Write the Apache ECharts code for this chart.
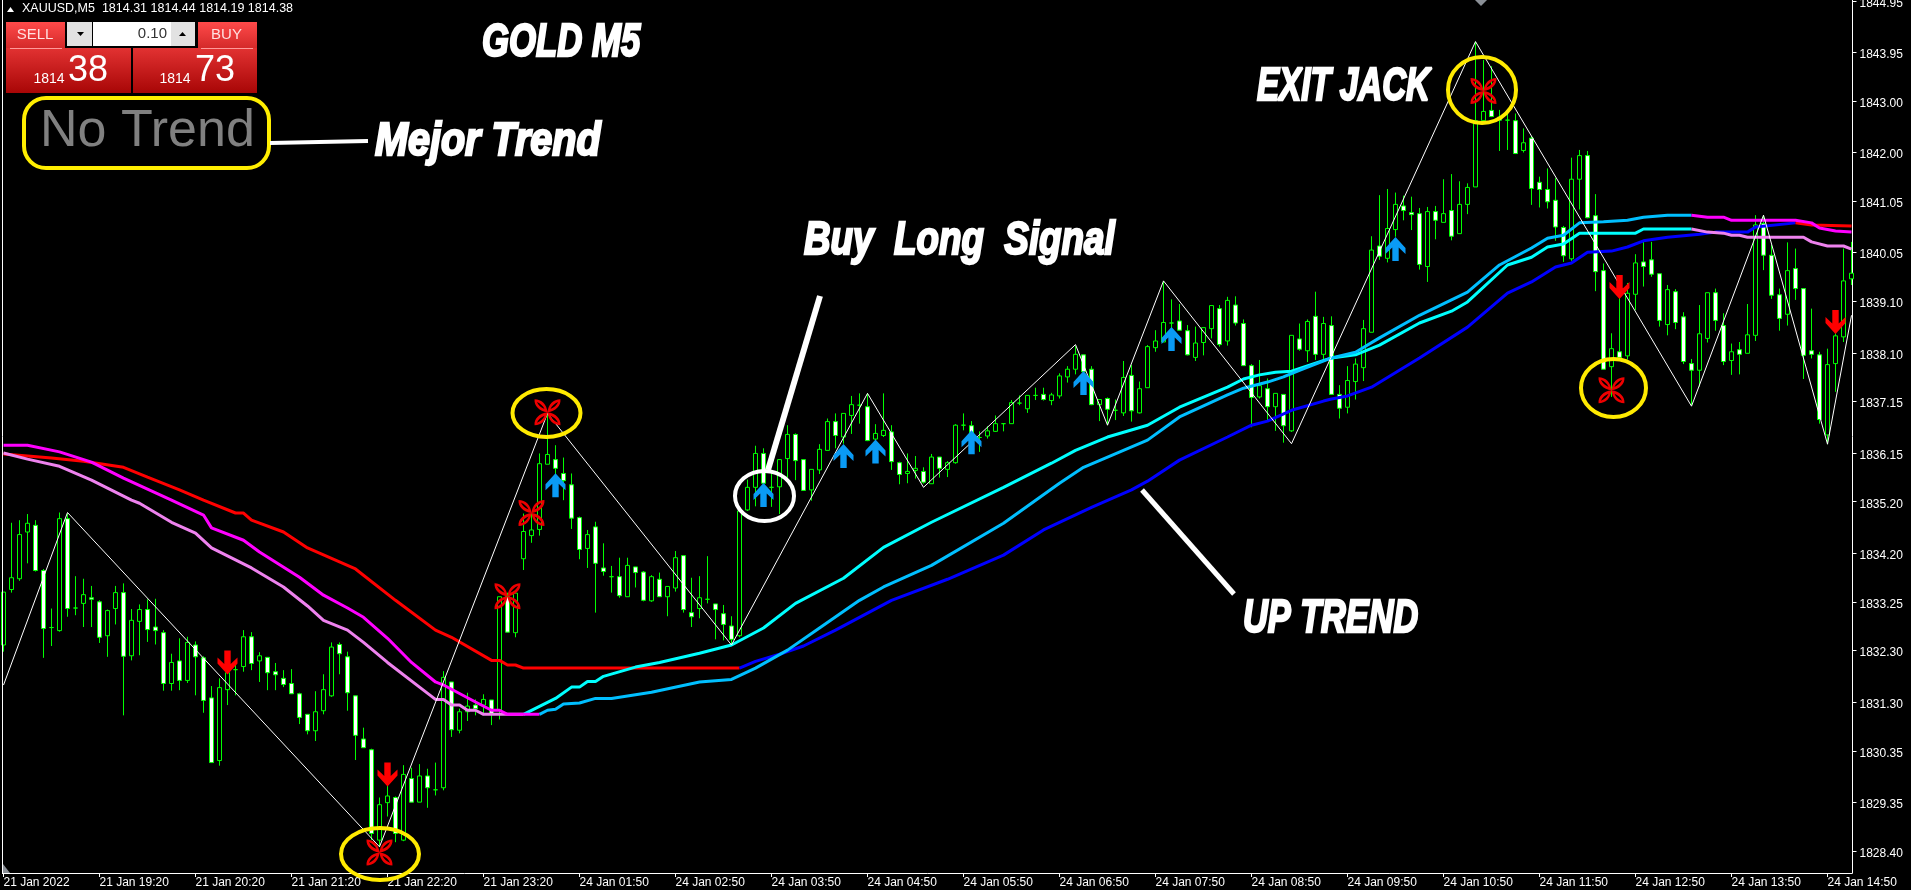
<!DOCTYPE html>
<html><head><meta charset="utf-8">
<style>html,body{margin:0;padding:0;background:#000}#c{width:1911px;height:890px}</style>
<script src="https://cdn.jsdelivr.net/npm/echarts@6/dist/echarts.min.js"></script>
</head><body><div id="c"></div>
<script>
const tickLabels=["21 Jan 2022","21 Jan 19:20","21 Jan 20:20","21 Jan 21:20","21 Jan 22:20","21 Jan 23:20","24 Jan 01:50","24 Jan 02:50","24 Jan 03:50","24 Jan 04:50","24 Jan 05:50","24 Jan 06:50","24 Jan 07:50","24 Jan 08:50","24 Jan 09:50","24 Jan 10:50","24 Jan 11:50","24 Jan 12:50","24 Jan 13:50","24 Jan 14:50"];
const priceTicks=[1828.40,1829.35,1830.35,1831.30,1832.30,1833.25,1834.20,1835.20,1836.15,1837.15,1838.10,1839.10,1840.05,1841.05,1842.00,1843.00,1843.95,1844.95];
const opens=[1832.41,1833.49,1833.70,1834.61,1834.74,1833.86,1832.75,1832.69,1834.87,1833.13,
1833.22,1833.33,1833.25,1832.59,1833.12,1833.43,1832.20,1832.87,1833.10,1832.76,
1832.65,1831.66,1832.10,1831.72,1832.41,1832.16,1831.38,1830.16,1831.54,1831.93,
1831.99,1832.57,1832.10,1832.17,1831.89,1831.76,1831.66,1831.46,1831.06,1830.74,
1831.13,1831.42,1832.42,1832.18,1831.42,1830.58,1830.37,1828.61,1829.34,1829.44,
1828.61,1829.81,1829.35,1829.86,1829.59,1829.63,1831.69,1830.75,1831.11,1831.24,
1831.24,1831.34,1831.14,1833.35,1832.65,1834.09,1834.54,1834.66,1835.93,1836.02,
1835.75,1835.53,1834.89,1834.29,1834.71,1833.91,1833.74,1833.74,1833.35,1833.93,
1833.83,1833.27,1833.69,1833.35,1833.52,1834.15,1833.04,1833.12,1833.30,1833.21,
1833.02,1832.78,1832.59,1835.04,1835.48,1836.14,1835.48,1835.49,1836.04,1836.51,
1836.02,1835.43,1835.82,1836.20,1836.76,1836.46,1836.88,1837.08,1837.05,1836.42,
1836.49,1836.56,1835.96,1835.75,1835.81,1835.79,1835.55,1836.07,1835.83,1835.96,
1836.69,1836.68,1836.45,1836.48,1836.57,1836.72,1836.72,1837.12,1837.01,1837.27,
1837.29,1837.17,1837.26,1837.63,1837.78,1838.06,1837.78,1837.09,1837.21,1836.98,
1836.93,1837.66,1836.93,1837.42,1838.20,1838.31,1838.68,1838.72,1838.53,1838.01,
1838.30,1838.57,1838.96,1838.33,1839.03,1838.67,1837.85,1837.24,1837.40,1837.05,
1837.29,1836.58,1838.37,1838.14,1838.81,1838.07,1838.63,1837.29,1837.04,1837.54,
1837.81,1838.50,1840.18,1839.94,1840.50,1840.96,1840.83,1840.81,1839.78,1840.85,
1840.64,1840.87,1840.42,1840.99,1841.33,1842.62,1842.82,1842.69,1842.63,1842.62,
1842.04,1842.28,1841.42,1841.28,1841.07,1840.54,1839.93,1841.48,1841.94,1840.77,
1839.70,1837.83,1838.12,1838.04,1839.24,1839.87,1839.91,1839.64,1838.65,1839.29,
1838.80,1837.89,1837.76,1838.38,1839.27,1838.63,1837.95,1838.16,1838.09,1838.44,
1840.62,1840.00,1839.23,1838.85,1839.74,1839.35,1838.14,1838.06,1836.50,1837.89,1838.41,1839.54];
const closes=[1833.44,1833.72,1834.56,1834.78,1833.86,1832.73,1832.75,1834.87,1833.12,1833.13,
1833.39,1833.30,1832.56,1833.08,1833.43,1832.19,1832.89,1833.10,1832.71,1832.69,
1831.66,1832.07,1831.72,1832.46,1832.18,1831.33,1830.12,1831.58,1831.87,1831.93,
1832.57,1832.05,1832.20,1831.87,1831.83,1831.64,1831.46,1831.00,1830.74,1831.11,
1831.54,1832.37,1832.24,1831.48,1830.65,1830.41,1828.74,1829.30,1829.47,1828.74,
1829.89,1829.35,1829.86,1829.63,1829.59,1831.78,1830.76,1831.11,1831.22,1831.17,
1831.35,1831.07,1833.35,1832.66,1833.42,1834.62,1834.65,1835.94,1836.12,1835.85,
1835.61,1834.88,1834.27,1834.56,1834.00,1833.84,1833.74,1833.37,1833.96,1833.82,
1833.28,1833.74,1833.35,1833.55,1834.11,1833.10,1832.96,1833.33,1833.30,1833.10,
1832.81,1832.52,1835.02,1835.48,1836.14,1835.56,1835.48,1836.02,1836.51,1836.00,
1835.42,1835.83,1836.22,1836.76,1836.49,1836.92,1837.09,1837.08,1836.39,1836.53,
1836.59,1835.98,1835.73,1835.79,1835.85,1835.58,1836.07,1835.85,1835.96,1836.69,
1836.69,1836.54,1836.45,1836.58,1836.72,1836.72,1837.13,1837.12,1837.27,1837.27,
1837.19,1837.28,1837.65,1837.78,1838.07,1837.73,1837.09,1837.19,1837.00,1836.98,
1837.62,1836.97,1837.40,1838.22,1838.33,1838.69,1838.68,1838.54,1838.06,1838.29,
1838.59,1839.02,1838.26,1839.12,1838.68,1837.85,1837.23,1837.46,1837.05,1837.31,
1836.68,1838.44,1838.17,1838.71,1838.07,1838.67,1837.29,1837.02,1837.56,1837.88,
1838.57,1840.10,1839.98,1840.52,1840.99,1840.87,1840.79,1839.82,1840.85,1840.68,
1840.81,1840.37,1840.99,1841.32,1842.62,1842.80,1842.70,1842.63,1842.63,1841.98,
1842.19,1841.30,1841.28,1841.04,1840.55,1839.99,1841.48,1841.94,1840.73,1839.68,
1837.78,1838.18,1838.01,1839.26,1839.85,1839.78,1839.63,1838.73,1839.33,1838.69,
1837.93,1837.76,1838.47,1839.27,1838.73,1837.93,1838.12,1838.07,1838.45,1840.59,
1840.00,1839.22,1838.77,1839.70,1839.35,1838.05,1838.07,1836.80,1837.87,1838.43,1839.50,1839.65];
const lows=[1832.28,1833.43,1833.66,1834.00,1833.84,1832.16,1832.39,1832.67,1832.96,1832.99,
1832.76,1832.76,1832.45,1832.18,1832.81,1831.04,1832.11,1832.21,1832.47,1832.42,
1831.52,1831.52,1831.53,1831.67,1831.43,1831.09,1830.12,1830.06,1831.24,1831.43,
1831.89,1831.92,1831.69,1831.53,1831.53,1831.59,1831.46,1830.87,1830.67,1830.54,
1831.06,1831.40,1831.84,1831.13,1830.17,1830.41,1828.61,1828.48,1829.07,1828.57,
1828.59,1829.35,1829.35,1829.24,1829.48,1829.58,1830.62,1830.69,1830.93,1831.04,
1831.04,1830.85,1830.96,1832.66,1832.56,1833.87,1834.40,1834.54,1835.93,1835.62,
1835.23,1834.67,1834.08,1833.91,1833.04,1833.76,1833.43,1833.33,1833.35,1833.53,
1833.26,1833.25,1833.35,1832.97,1833.45,1833.04,1832.76,1832.93,1833.22,1832.52,
1832.50,1832.42,1832.56,1835.02,1835.11,1835.52,1835.10,1834.96,1835.67,1835.62,
1835.42,1835.22,1835.74,1836.20,1836.24,1836.33,1836.52,1836.72,1836.38,1836.40,
1836.46,1835.82,1835.54,1835.56,1835.65,1835.55,1835.55,1835.67,1835.68,1835.94,
1836.59,1836.14,1836.17,1836.43,1836.56,1836.57,1836.72,1837.08,1836.93,1837.18,
1837.17,1837.08,1837.21,1837.52,1837.68,1837.63,1837.08,1836.77,1836.69,1836.79,
1836.87,1836.76,1836.92,1837.42,1838.12,1838.31,1838.35,1838.54,1838.05,1837.94,
1838.05,1838.38,1838.22,1838.24,1838.63,1837.85,1836.65,1837.21,1836.79,1836.58,
1836.35,1836.56,1838.14,1837.92,1837.96,1837.96,1837.29,1836.82,1836.92,1837.19,
1837.55,1838.50,1839.91,1839.86,1840.36,1840.68,1840.49,1839.72,1839.48,1840.31,
1840.64,1840.29,1840.42,1840.80,1841.33,1842.57,1842.69,1842.03,1842.05,1841.97,
1842.00,1840.98,1840.93,1840.91,1840.28,1839.87,1839.89,1840.89,1840.72,1839.30,
1837.78,1837.24,1837.99,1837.97,1838.93,1839.39,1839.58,1838.61,1838.44,1838.56,
1837.88,1837.08,1837.44,1838.30,1838.53,1837.86,1837.67,1837.68,1838.09,1838.33,
1839.71,1839.15,1838.53,1838.63,1839.13,1837.59,1837.99,1836.72,1836.32,1837.34,1838.31,1839.42];
const highs=[1833.44,1834.79,1834.84,1834.96,1834.84,1833.89,1833.12,1834.99,1834.97,1833.75,
1833.70,1833.56,1833.28,1833.10,1833.56,1833.61,1833.11,1833.20,1833.30,1833.31,
1832.70,1832.24,1832.54,1832.57,1832.48,1832.19,1831.61,1831.76,1831.95,1832.02,
1832.70,1832.66,1832.27,1832.17,1832.06,1831.92,1831.94,1831.48,1831.06,1831.51,
1831.84,1832.46,1832.46,1832.28,1831.42,1830.80,1830.39,1829.44,1829.68,1829.46,
1830.07,1830.02,1830.09,1830.00,1830.12,1831.90,1831.69,1831.17,1831.48,1831.35,
1831.45,1831.34,1833.35,1833.43,1833.42,1834.97,1834.97,1836.14,1836.92,1836.30,
1836.06,1835.75,1834.91,1834.65,1834.81,1834.39,1833.95,1834.11,1834.11,1833.93,
1833.85,1833.77,1833.82,1833.55,1834.24,1834.15,1833.72,1833.75,1834.14,1833.21,
1833.19,1832.97,1835.04,1835.63,1836.29,1836.24,1835.75,1836.02,1836.69,1836.53,
1836.02,1835.83,1836.32,1836.82,1836.92,1836.92,1837.26,1837.31,1837.31,1836.71,
1837.31,1836.69,1835.98,1836.14,1836.09,1835.87,1836.13,1836.07,1835.99,1836.71,
1836.92,1836.77,1836.57,1836.67,1836.88,1836.72,1837.18,1837.27,1837.27,1837.42,
1837.42,1837.32,1837.70,1837.84,1838.23,1838.06,1837.84,1837.19,1837.23,1837.19,
1837.94,1837.86,1837.54,1838.25,1838.54,1839.50,1839.14,1839.05,1838.64,1838.61,
1838.59,1839.02,1839.03,1839.19,1839.20,1838.75,1837.88,1837.96,1837.60,1837.31,
1837.29,1838.44,1838.67,1838.75,1839.29,1838.80,1838.81,1837.47,1837.84,1837.99,
1838.74,1840.37,1841.17,1841.29,1841.22,1841.16,1841.14,1840.92,1840.94,1840.96,
1841.48,1841.58,1841.44,1841.40,1844.16,1843.80,1843.68,1842.83,1842.83,1842.76,
1842.47,1842.32,1841.53,1841.69,1841.50,1840.57,1841.90,1842.05,1842.03,1841.19,
1839.84,1838.48,1839.19,1839.46,1840.02,1840.26,1840.26,1839.64,1839.42,1839.34,
1838.89,1837.98,1839.03,1839.27,1839.35,1838.87,1838.28,1838.31,1839.05,1840.78,
1840.78,1840.20,1839.35,1840.25,1840.13,1839.35,1838.96,1838.12,1838.18,1838.48,1840.13,1840.26];
// [bar, price] readings
const zigzag=[[0,1831.63],[8,1834.99],[47,1828.48],[68,1836.92],[91,1832.41],[108,1837.31],[115,1835.48],[134,1838.26],[138,1836.69],[145,1839.50],[161,1836.33],[184,1844.16],[211,1837.06],[220,1840.78],[228,1836.32],[231,1838.83]];
const redLine=[[0,1836.13],[6,1836.05],[10,1835.99],[15,1835.87],[18,1835.68],[22,1835.43],[25,1835.23],[29,1834.98],[30,1834.98],[31,1834.84],[35,1834.61],[38,1834.30],[44,1833.89],[49,1833.28],[54,1832.70],[56,1832.56],[61,1832.11],[62,1832.11],[63,1832.02],[64,1832.02],[65,1831.96],[92,1831.96]];
const blueLine=[[92,1831.96],[94,1832.09],[97,1832.23],[100,1832.39],[104,1832.70],[111,1833.28],[118,1833.69],[125,1834.16],[130,1834.65],[136,1835.09],[141,1835.43],[143,1835.60],[147,1836.01],[153,1836.46],[156,1836.69],[158,1836.77],[161,1836.98],[165,1837.16],[166,1837.20],[168,1837.26],[171,1837.43],[177,1838.00],[183,1838.60],[188,1839.26],[191,1839.48],[194,1839.77],[196,1839.85],[198,1840.06],[201,1840.08],[203,1840.16],[205,1840.28],[208,1840.35],[212,1840.41],[214,1840.45],[218,1840.45],[219,1840.55],[224,1840.63]];
const redEnd=[[224,1840.63],[226,1840.59],[231,1840.57]];
const magentaLine=[[0,1836.30],[3,1836.30],[7,1836.17],[11,1835.97],[15,1835.66],[21,1835.23],[25,1834.94],[26,1834.69],[30,1834.45],[32,1834.22],[37,1833.73],[40,1833.38],[43,1833.13],[45,1832.95],[48,1832.54],[51,1832.07],[54,1831.69],[55,1831.63],[59,1831.30],[61,1831.14],[62,1831.14],[63,1831.06],[67,1831.06]];
const skyLine=[[67,1831.06],[68,1831.14],[69,1831.16],[70,1831.26],[72,1831.28],[74,1831.37],[76,1831.37],[81,1831.49],[87,1831.69],[91,1831.74],[94,1831.96],[98,1832.31],[102,1832.74],[107,1833.28],[110,1833.54],[116,1833.96],[125,1834.78],[132,1835.56],[135,1835.87],[143,1836.40],[147,1836.85],[153,1837.28],[155,1837.41],[158,1837.53],[160,1837.63],[162,1837.76],[166,1838.00],[169,1838.11],[172,1838.39],[177,1838.83],[181,1839.13],[183,1839.28],[187,1839.81],[191,1840.14],[193,1840.33],[195,1840.39],[197,1840.63],[200,1840.65],[203,1840.68],[205,1840.74],[208,1840.78],[211,1840.78]];
const magentaEnd=[[211,1840.78],[213,1840.74],[215,1840.74],[216,1840.68],[219,1840.68],[224,1840.68],[226,1840.63],[227,1840.53],[229,1840.47],[231,1840.45]];
const pinkLine=[[0,1836.15],[3,1836.03],[7,1835.89],[11,1835.62],[16,1835.23],[17,1835.17],[21,1834.80],[24,1834.59],[26,1834.30],[31,1833.91],[35,1833.54],[38,1833.17],[40,1832.89],[43,1832.70],[45,1832.46],[48,1832.07],[52,1831.59],[54,1831.35],[55,1831.35],[56,1831.24],[57,1831.24],[58,1831.14],[59,1831.14],[60,1831.06],[65,1831.06]];
const cyanLine=[[65,1831.06],[69,1831.37],[71,1831.59],[72,1831.59],[73,1831.70],[74,1831.70],[75,1831.80],[79,1831.98],[82,1832.07],[87,1832.25],[91,1832.41],[95,1832.74],[99,1833.22],[105,1833.71],[110,1834.31],[116,1834.80],[125,1835.48],[131,1835.95],[134,1836.20],[138,1836.46],[143,1836.69],[147,1837.04],[153,1837.43],[155,1837.59],[157,1837.67],[159,1837.72],[161,1837.74],[164,1837.90],[166,1838.00],[169,1838.06],[172,1838.25],[177,1838.68],[181,1838.91],[183,1839.09],[188,1839.81],[191,1839.96],[193,1840.16],[195,1840.22],[197,1840.43],[204,1840.43],[205,1840.51],[211,1840.51]];
const pinkEnd=[[211,1840.51],[213,1840.45],[215,1840.43],[216,1840.39],[217,1840.39],[218,1840.35],[225,1840.35],[226,1840.26],[228,1840.18],[230,1840.18],[231,1840.12]];
const buyArrows=[[69,1835.52],[95,1835.33],[105,1836.09],[109,1836.18],[121,1836.36],[135,1837.51],[146,1838.37],[174,1840.12]];
const sellArrows=[[28,1832.07],[48,1829.89],[202,1839.38],[229,1838.70]];
const exits=[[47,1828.37],[63,1833.36],[66,1834.98],[68,1836.94],[185,1843.20],[201,1837.37]];

const categories=opens.map((_,i)=>i%12===0&&tickLabels[i/12]?tickLabels[i/12]:'');
const candles=opens.map((o,i)=>[o,closes[i],lows[i],highs[i]]);
const upPath='path://M10 0L20 11L20 17L13.2 10.5L13.2 24L6.8 24L6.8 10.5L0 17L0 11Z';
const downPath='path://M6.8 0L13.2 0L13.2 13.5L20 7L20 13L10 24L0 13L0 7L6.8 13.5Z';
const flowerPath='path://M50 50C22 46 4 28 6 4C30 4 48 22 50 50ZM40 38C35 27 26 18 14 13C19 25 28 33 40 38ZM50 50C78 46 96 28 94 4C70 4 52 22 50 50ZM60 38C65 27 74 18 86 13C81 25 72 33 60 38ZM50 50C22 54 4 72 6 96C30 96 48 78 50 50ZM40 62C35 73 26 82 14 87C19 75 28 67 40 62ZM50 50C78 54 96 72 94 96C70 96 52 78 50 50ZM60 62C65 73 74 82 86 87C81 75 72 67 60 62Z';
const ma=(d,c)=>({type:'line',data:d,showSymbol:false,symbol:'none',z:3,silent:true,animation:false,lineStyle:{color:c,width:3},itemStyle:{color:c}});
const marks=(d,p,s,c,z)=>({type:'scatter',data:d,symbol:p,symbolSize:s,z:z,silent:true,animation:false,itemStyle:{color:c,opacity:1}});

const heavy='"Liberation Sans",sans-serif';
const bigText=(t,x,y,size,sx)=>({type:'text',z:20,x:x,y:y,scaleX:sx,style:{text:t,fill:'#fff',stroke:'#fff',lineWidth:2.4,font:'italic bold '+size+'px '+heavy,verticalAlign:'middle',align:'left',shadowColor:'#2a5cff',shadowOffsetX:-1,shadowBlur:0}});
const ell=(cx,cy,rx,ry,c)=>({type:'ellipse',z:15,shape:{cx,cy,rx,ry},style:{fill:null,stroke:c,lineWidth:4}});
const seg=(x1,y1,x2,y2,w)=>({type:'line',z:15,shape:{x1,y1,x2,y2},style:{stroke:'#fff',lineWidth:w}});
const grad=(a,b)=>({type:'linear',x:0,y:0,x2:0,y2:1,colorStops:[{offset:0,color:a},{offset:1,color:b}]});
const box=(x,y,w,h,f)=>({type:'rect',z:12,shape:{x,y,width:w,height:h},style:{fill:f}});
const txt=(t,x,y,size,c,al,font)=>({type:'text',z:14,x,y,style:{text:t,fill:c,font:size+'px '+(font||'"Liberation Sans"'),align:al||'center',verticalAlign:'middle'}});
const tri=(pts,c)=>({type:'polygon',z:14,shape:{points:pts},style:{fill:c}});

const graphics=[
 {type:'line',z:9,shape:{x1:2.5,y1:0,x2:2.5,y2:873.5},style:{stroke:'#fff',lineWidth:1}},
 {type:'line',z:9,shape:{x1:2,y1:873.5,x2:1852.5,y2:873.5},style:{stroke:'#fff',lineWidth:1}},
 tri([[3,873],[10,873],[3,864]],'#8a8f96'),
 tri([[1475,0],[1487,0],[1481,6]],'#8a8f96'),
 tri([[7,12],[14,12],[10.5,7]],'#fff'),
 txt('XAUUSD,M5  1814.31 1814.44 1814.19 1814.38',22,9,12.5,'#fff','left'),
 box(6,22,59,26,grad('#ff4a4a','#d42a2a')),
 box(198,22,59,26,grad('#ff4a4a','#d42a2a')),
 box(6,48,125,45,grad('#e23232','#a80606')),
 box(133,48,124,45,grad('#e23232','#a80606')),
 box(10,48,52,1,'#ff9a9a'),box(201,48,52,1,'#ff9a9a'),
 box(67,22,25,24,'#e2e2e2'),box(93,22,78,24,'#fff'),box(171,22,24,24,'#e2e2e2'),
 tri([[77,32],[84,32],[80.5,36]],'#000'),tri([[179,36],[186,36],[182.5,32]],'#000'),
 txt('SELL',35,35,15,'#ffe0e0'),txt('BUY',226.5,35,15,'#ffe0e0'),
 txt('0.10',167,34,15,'#333','right'),
 txt('1814',49,79,14,'#fff'),txt('38',88,71,36,'#fff'),
 txt('1814',175,79,14,'#fff'),txt('73',215,71,36,'#fff'),
 txt('No Trend',40,132,52,'#808080','left'),
 {type:'rect',z:15,shape:{x:24,y:98,width:245,height:70,r:22},style:{fill:null,stroke:'#ffee00',lineWidth:4}},
 seg(270,143,368,141,4),
 seg(820,296,768,470,6),
 seg(1142,490,1234,594,5),
 ell(380,854,39,26,'#ffea00'),ell(546.5,413,34,24,'#ffea00'),ell(1482,90,34,33,'#ffea00'),ell(1613.5,388,32.5,29,'#ffea00'),
 ell(764.5,496,29.5,25,'#fff'),
 bigText('GOLD M5',482,43,46,0.755),
 bigText('Mejor Trend',375,142,46,0.86),
 bigText('Buy  Long  Signal',804,241,46,0.8),
 bigText('EXIT JACK',1257,87,46,0.72),
 bigText('UP TREND',1243,619,46,0.745)
];

const chart=echarts.init(document.getElementById('c'),null,{renderer:'canvas',width:1911,height:890});
chart.setOption({
 animation:false,backgroundColor:'#000',
 grid:{left:-0.5,top:0,width:1856,height:873,containLabel:false,outerBoundsMode:'none'},
 xAxis:{type:'category',data:categories,boundaryGap:true,axisLine:{show:false},
  axisTick:{show:true,interval:11,alignWithLabel:true,length:4,lineStyle:{color:'#fff'}},
  axisLabel:{show:true,interval:11,color:'#fff',fontSize:12,fontFamily:'Liberation Sans',align:'left',margin:4,hideOverlap:false},splitLine:{show:false}},
 yAxis:{type:'value',position:'right',offset:-3,min:1827.97,max:1844.97,
  axisLine:{show:true,lineStyle:{color:'#fff'}},
  axisTick:{show:true,length:4,inside:false,customValues:priceTicks,lineStyle:{color:'#fff'}},
  axisLabel:{show:true,customValues:priceTicks,color:'#fff',fontSize:12,fontFamily:'Liberation Sans',margin:7,
   formatter:v=>'{p|'+v.toFixed(2)+'}',
   rich:{p:{color:'#fff',fontSize:12,fontFamily:'Liberation Sans',lineHeight:12,padding:[5,0,0,0]}}},splitLine:{show:false}},
 series:[
  {type:'candlestick',data:candles,barWidth:4,z:2,silent:true,animation:false,clip:true,
   itemStyle:{color:'#000000',color0:'#ffffff',borderColor:'#00ff00',borderColor0:'#00ff00',borderColorDoji:'#00ff00',borderWidth:1}},
  ma(redLine,'#ff0000'),ma(blueLine,'#0000ff'),ma(redEnd,'#ff0000'),
  ma(pinkLine,'#ee82ee'),ma(cyanLine,'#00ffff'),ma(pinkEnd,'#ee82ee'),
  ma(magentaLine,'#ff00ff'),ma(skyLine,'#00bfff'),ma(magentaEnd,'#ff00ff'),
  {type:'line',data:zigzag,showSymbol:false,symbol:'none',z:4,silent:true,animation:false,lineStyle:{color:'#fff',width:1}},
  marks(buyArrows,upPath,[20,24],'#0a9bf5',5),
  marks(sellArrows,downPath,[20,24],'#ff0000',5),
  marks(exits,flowerPath,[26,26],'#ee0000',6)
 ],
 graphic:graphics
});
</script></body></html>
